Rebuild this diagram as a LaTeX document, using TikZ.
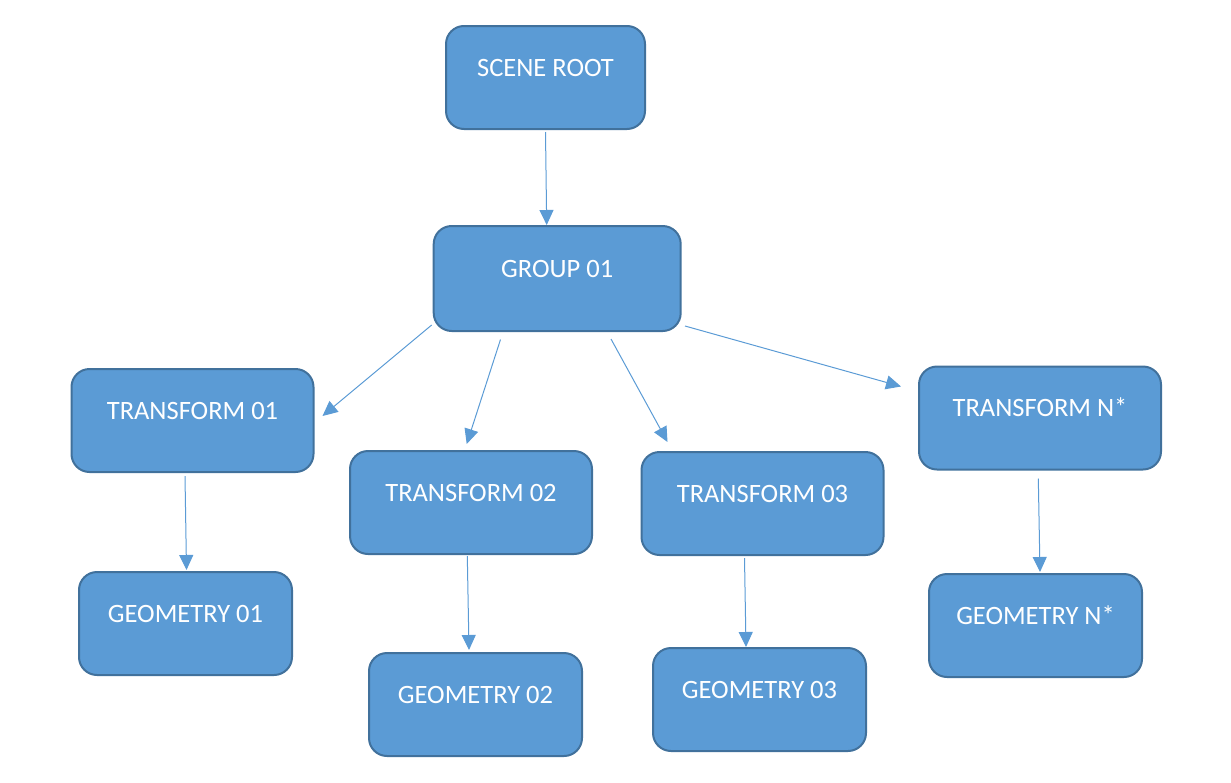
\documentclass[tikz,border=0pt]{standalone}
\usepackage{fontspec}
\setmainfont{Carlito}
\usetikzlibrary{arrows.meta}
\definecolor{boxfill}{HTML}{5B9BD5}
\definecolor{boxline}{HTML}{41719C}

\begin{document}
\begin{tikzpicture}[
  x=1pt, y=-1pt,
  box/.style={rectangle, rounded corners=18pt, draw=boxline, fill=boxfill, line width=2pt,
    text=white, font=\fontsize{26.5}{30}\selectfont, inner sep=0pt,
    text height=50pt, text depth=53pt},
  wide/.style={box, minimum width=242pt},
  narrow/.style={box, minimum width=213pt},
  link/.style={draw=boxfill, line width=1pt, -{Triangle[length=15pt,width=14pt]}}
]
\useasboundingbox (0,0) rectangle (1231,782);

\node[box, minimum width=199pt] (root) at (545.5,77.5) {SCENE ROOT};
\node[box, minimum width=247pt, text height=51pt, text depth=54pt] (group) at (557.2,278.5) {GROUP 01};

\node[wide] (t1) at (192.5,420.5) {TRANSFORM 01};
\node[wide] (t2) at (471,502.5) {TRANSFORM 02};
\node[wide] (t3) at (762.5,503.5) {TRANSFORM 03};
\node[wide] (tn) at (1040,418) {TRANSFORM N*};

\node[narrow] (g1) at (185.5,623.5) {GEOMETRY 01};
\node[narrow] (g2) at (475.5,704.5) {GEOMETRY 02};
\node[narrow] (g3) at (759.5,699.5) {GEOMETRY 03};
\node[narrow] (gn) at (1035.5,625.5) {GEOMETRY N*};

\draw[link] ([shift={(0,2)}]root.south) -- ([xshift=-10.5pt]group.north);

\draw[link] ([shift={(-1,-7)}]group.south west) -- ([shift={(8,-4.5)}]t1.east);
\draw[link] ([shift={(-56.7,7.5)}]group.south) -- ([shift={(-4.3,-6)}]t2.north);
\draw[link] ([shift={(53.8,7)}]group.south) -- ([shift={(27,-9)}]t3.north west);
\draw[link] ([shift={(3.3,-6)}]group.south east) -- ([shift={(-17,21)}]tn.north west);

\draw[link] ([shift={(-7.5,3)}]t1.south) -- ([shift={(1,-1)}]g1.north);
\draw[link] ([shift={(-3.7,1)}]t2.south) -- ([shift={(-6.5,-2)}]g2.north);
\draw[link] ([shift={(-18,2)}]t3.south) -- ([shift={(-13.5,0)}]g3.north);
\draw[link] ([shift={(-1.7,8)}]tn.south) -- ([shift={(4.5,-1)}]gn.north);

\end{tikzpicture}
\end{document}
